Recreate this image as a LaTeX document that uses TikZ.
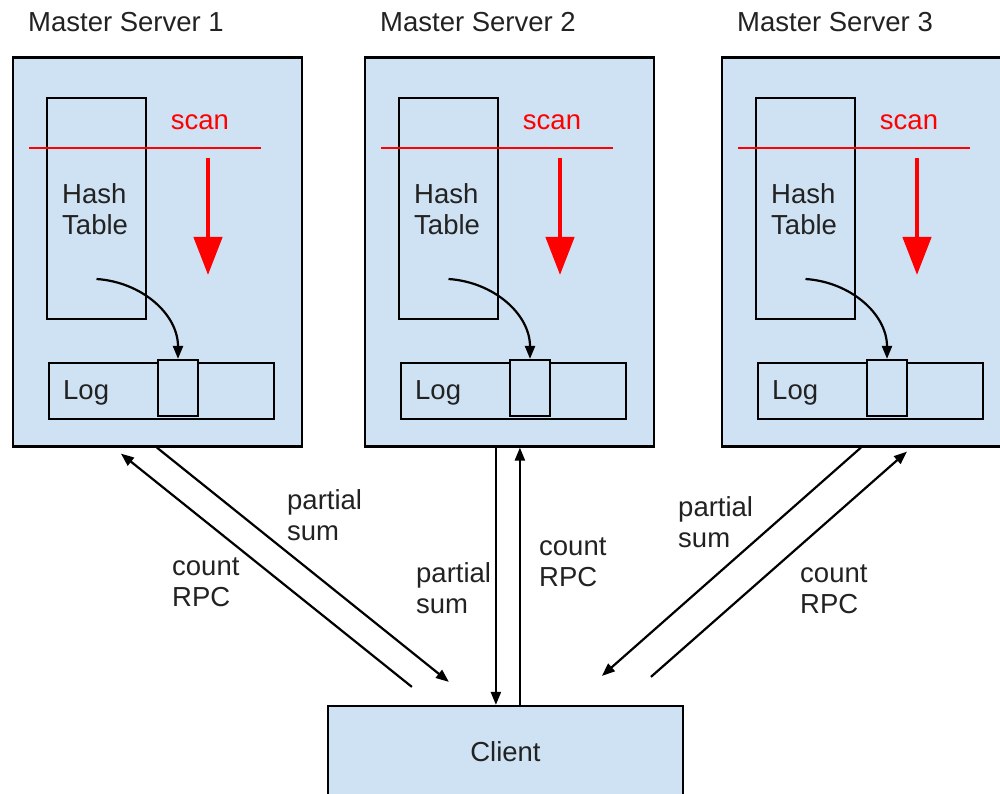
\documentclass[tikz,border=0pt]{standalone}
\usepackage{fontspec}
\setmainfont{Liberation Sans}
\usetikzlibrary{arrows.meta}
\definecolor{boxblue}{HTML}{CFE2F3}
\definecolor{scanred}{HTML}{FF0000}
\definecolor{inkgray}{HTML}{222222}

\begin{document}
\begin{tikzpicture}[x=1pt,y=-1pt,font=\fontsize{27.5}{31.5}\selectfont,text=inkgray,
  box/.style={draw,line width=2.2pt,fill=boxblue,inner sep=0pt},
  part/.style={draw,line width=2.2pt,inner sep=0pt},
  lbl/.style={anchor=west,inner sep=0pt,align=left},
  msg/.style={-{Triangle[length=13pt,width=10pt]},line width=2.2pt},
  scanline/.style={scanred,line width=2pt},
  scanarrow/.style={scanred,line width=4.5pt,-{Triangle[length=38pt,width=28pt]}}]
  \useasboundingbox (0,0) rectangle (1000,794);

  \foreach \i/\x in {1/13,2/365,3/722}{
    \node[lbl] (t\i) at (\x+15,22) {Master Server \i};
    \node[box,minimum width=289pt,minimum height=389pt] (s\i) at (\x+144.5,252) {};
    \node[part,minimum width=99pt,minimum height=221pt] (h\i) at (\x+83.5,208.5) {};
    \node[lbl] (ht\i) at (\x+49,209) {Hash\\Table};
    \node[text=scanred,inner sep=0pt] (sc\i) at (\x+187,122) {scan};
    \draw[scanline] (\x+16,148) -- (\x+248,148);
    \draw[scanarrow] (\x+195,158) -- (\x+195,275);
    \node[part,minimum width=225pt,minimum height=56pt] (l\i) at (\x+148.5,391) {};
    \node[lbl] (lt\i) at (\x+50,393) {Log};
    \node[part,fill=boxblue,minimum width=40pt,minimum height=56pt] (k\i) at (\x+165,388) {};
    \draw[msg] ([yshift=-70.5pt]h\i.center) .. controls +(45,3) and +(0,-45) .. (k\i.north);
  }

  \node[box,minimum width=355pt,minimum height=92pt] (c) at (505.5,752) {Client};

  \draw[msg] ([xshift=145pt]s1.south west) -- ([xshift=122pt,yshift=23pt]c.north west);
  \draw[msg] ([xshift=85pt,yshift=18pt]c.north west) -- ([xshift=109pt,yshift=-6pt]s1.south west);
  \draw[msg] ([xshift=132pt]s2.south west) -- ([xshift=169pt]c.north west);
  \draw[msg] ([xshift=193pt]c.north west) -- ([xshift=156pt]s2.south west);
  \draw[msg] ([xshift=140pt]s3.south west) -- ([xshift=275pt,yshift=29pt]c.north west);
  \draw[msg] ([xshift=324pt,yshift=28pt]c.north west) -- ([xshift=186pt,yshift=-4pt]s3.south west);

  \node[lbl] (ps1) at (287,515) {partial\\sum};
  \node[lbl] (cr1) at (172,582) {count\\RPC};
  \node[lbl] (ps2) at (416,588) {partial\\sum};
  \node[lbl] (cr2) at (539,562) {count\\RPC};
  \node[lbl] (ps3) at (678,522) {partial\\sum};
  \node[lbl] (cr3) at (800,589) {count\\RPC};
\end{tikzpicture}
\end{document}
